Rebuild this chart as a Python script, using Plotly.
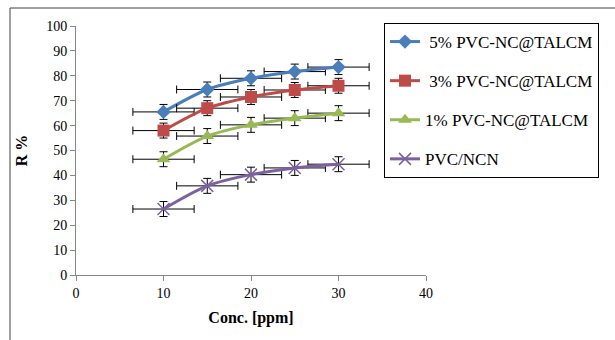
import plotly.graph_objects as go

conc = [10, 15, 20, 25, 30]
r_5 = [65.5, 74.5, 79.0, 81.7, 83.5]
r_3 = [58.0, 67.0, 71.5, 74.3, 76.0]
r_1 = [46.5, 55.8, 60.3, 63.0, 65.0]
r_ncn = [26.5, 35.8, 40.3, 43.0, 44.5]
x_err = [3.5, 3.5, 3.5, 3.5, 3.5]
y_err = [3.0, 3.0, 3.0, 3.0, 3.0]

names = [" 5% PVC-NC@TALCM", " 3% PVC-NC@TALCM", "1% PVC-NC@TALCM", "PVC/NCN"]
series = [r_5, r_3, r_1, r_ncn]
colors = ["#4A7EBB", "#BE4B48", "#98B954", "#7D60A0"]
symbols = ["diamond", "square", "triangle-up", "x-thin"]
sizes = [11, 12, 12, 12]

fig = go.Figure()
for i, (nm, ys) in enumerate(zip(names, series)):
    marker = dict(symbol=symbols[i], size=sizes[i], color=colors[i])
    if symbols[i] == "x-thin":
        marker["line"] = dict(color=colors[i], width=1.5)
    fig.add_trace(go.Scatter(
        x=conc, y=ys, name=nm, mode="lines+markers",
        line=dict(color=colors[i], width=3, shape="spline", smoothing=0.8),
        marker=marker,
        legendgroup=str(i),
        error_x=dict(type="data", array=x_err, color="black", thickness=1, width=4),
        error_y=dict(type="data", array=y_err, color="black", thickness=1, width=4),
    ))

L, R, T, B = 76, 189, 26, 65
W = 615 - L - R
H = 340 - T - B

def px(xp):
    return (xp - L) / W

def py(yp):
    return (340 - B - yp) / H

font = "Liberation Serif, Times New Roman, serif"
fig.update_layout(
    width=615, height=340,
    margin=dict(l=L, r=R, t=T, b=B),
    paper_bgcolor="white", plot_bgcolor="white",
    font=dict(family=font, size=14, color="black"),
    showlegend=True,
    legend=dict(
        x=px(384), y=py(23), xanchor="left", yanchor="top",
        bordercolor="black", borderwidth=1,
        font=dict(family=font, size=17, color="black"),
        traceorder="grouped", tracegroupgap=14,
        itemwidth=30,
    ),
    xaxis=dict(
        range=[0, 40], tickvals=[0, 10, 20, 30, 40], showgrid=False, zeroline=False,
        showline=True, linecolor="#868686", linewidth=1,
        ticks="outside", ticklen=5, tickcolor="#868686",
        tickfont=dict(family=font, size=14, color="black"),
        title=dict(text="<b>Conc. [ppm]</b>", font=dict(family=font, size=16), standoff=12),
    ),
    yaxis=dict(
        range=[0, 100], tickvals=list(range(0, 101, 10)), showgrid=False, zeroline=False,
        showline=True, linecolor="#868686", linewidth=1,
        ticks="outside", ticklen=5, tickcolor="#868686",
        tickfont=dict(family=font, size=14, color="black"),
        title=dict(text="<b>R %</b>", font=dict(family=font, size=16), standoff=14),
    ),
    shapes=[
        dict(type="line", xref="paper", yref="paper", x0=px(10), x1=px(616), y0=py(8), y1=py(8),
             line=dict(color="#404040", width=1)),
        dict(type="line", xref="paper", yref="paper", x0=px(10), x1=px(10), y0=py(8), y1=py(341),
             line=dict(color="#404040", width=1)),
    ],
)

fig.write_html("out.html")
